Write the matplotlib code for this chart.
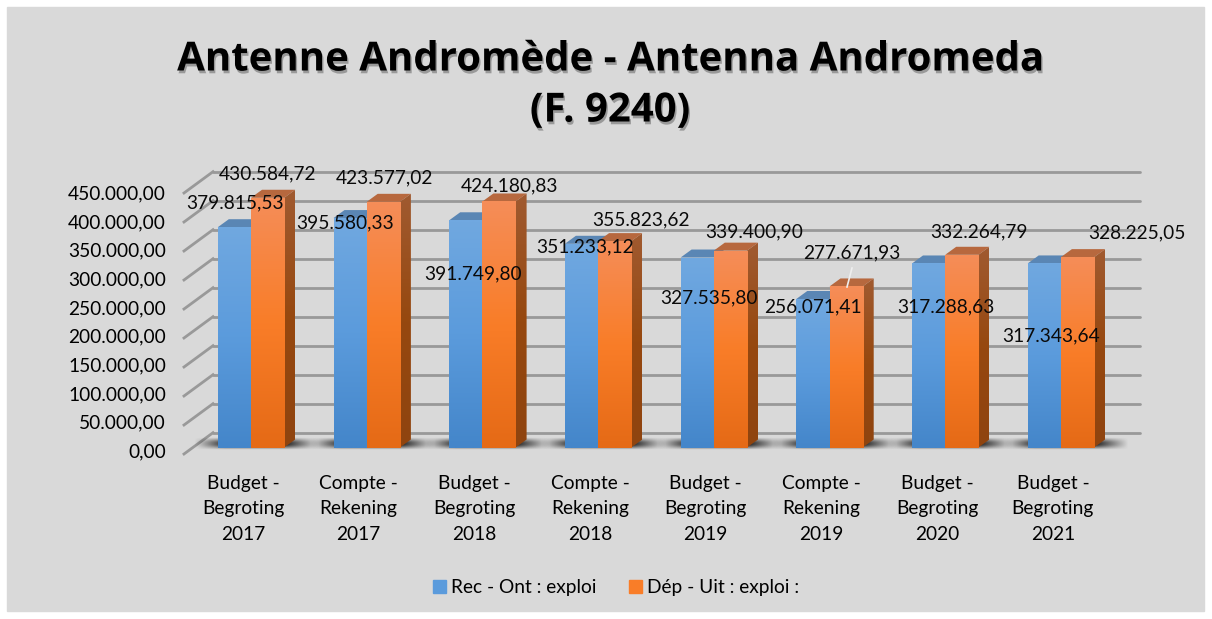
import numpy as np
import matplotlib
matplotlib.use('Agg')
import matplotlib.pyplot as plt
import matplotlib.patheffects as pe
from matplotlib.patches import Patch, Polygon, Rectangle
from matplotlib.transforms import ScaledTranslation

categories = ['Budget -\nBegroting\n2017', 'Compte -\nRekening\n2017',
              'Budget -\nBegroting\n2018', 'Compte -\nRekening\n2018',
              'Budget -\nBegroting\n2019', 'Compte -\nRekening\n2019',
              'Budget -\nBegroting\n2020', 'Budget -\nBegroting\n2021']
rec_values = [379815.53, 395580.33, 391749.80, 351233.12, 327535.80, 256071.41, 317288.63, 317343.64]
dep_values = [430584.72, 423577.02, 424180.83, 355823.62, 339400.90, 277671.93, 332264.79, 328225.05]
y_ticks = [0, 50000, 100000, 150000, 200000, 250000, 300000, 350000, 400000, 450000]

# where the data labels sit in the picture (pixels, centre of text)
rec_label_px = [(235, 203), (345, 223), (473, 274), (585, 247), (709, 298), (813, 307), (946, 307), (1051, 336)]
dep_label_px = [(268, 174), (384, 178), (510, 186), (641, 220), (754, 232), (852, 253), (979, 232), (1137, 233)]

W, H = 1212, 619
FONT = 'Lato'
FS = 13.8
plt.rcParams['font.family'] = [FONT, 'DejaVu Sans']


def money(v):
    return f'{v:,.2f}'.replace(',', ' ').replace('.', ',').replace(' ', '.')


def fx(px):
    return px / W


def fy(py):
    return 1 - py / H


def gradient(ax, x0, x1, y0, y1, stops, zorder, clip=None):
    # vertical gradient on a rectangle, stops go top to bottom
    t = np.linspace(0, 1, 64)
    pos = np.linspace(0, 1, len(stops))
    rgb = np.array([np.interp(t, pos, [matplotlib.colors.to_rgb(s)[k] for s in stops]) for k in range(3)]).T
    im = ax.imshow(rgb[:, None, :], extent=(x0, x1, y0, y1), aspect='auto', zorder=zorder, interpolation='bilinear')
    if clip is not None:
        p = Polygon(clip, transform=ax.transData, fc='none', ec='none')
        ax.add_patch(p)
        im.set_clip_path(p)
    return im


fig = plt.figure(figsize=(W / 100, H / 100), dpi=100, facecolor='white')
bg = Rectangle((7 / W, 1 - 611 / H), 1197 / W, 604 / H, transform=fig.transFigure, color='#d9d9d9', zorder=-10)
fig.patches.append(bg)

# axes: x from 184 to 1140 px, value 0 at y=447.5 and 450000 at y=186.5
left, right, base, top = 184, 1140, 447.5, 186.5
ax = fig.add_axes([fx(left), fy(base), (right - left) / W, (base - top) / H])
ax.patch.set_alpha(0)
step = 115.7
per_px = 450000 / (base - top)
for s in ax.spines.values():
    s.set_visible(False)

depth_x = 11 / step
depth_y = 8 * per_px
bar_w = 33.2 / step

# back wall grid and left wall
back_x0 = 213
for v in y_ticks:
    yb = v + 14.8 * per_px
    yf = v - 6.5 * per_px
    ax.plot([(back_x0 - 251) / step, (right - 251) / step], [yb, yb], color='#999999', lw=2, clip_on=False, zorder=1,
            solid_capstyle='round')
    ax.plot([(184 - 251) / step, (back_x0 - 251) / step], [yf, yb], color='#999999', lw=2, clip_on=False, zorder=1)

for i in range(len(categories)):
    # floor shadow
    xl = i - bar_w - 24 / step
    xr = i + bar_w + 34 / step
    nx, ny = 80, 16
    a = np.minimum(1, np.minimum(np.linspace(0, 1, nx), np.linspace(1, 0, nx)) * 4)
    b = np.sin(np.linspace(0, np.pi, ny)) ** 1.2
    img = np.zeros((ny, nx, 4))
    img[..., 3] = np.outer(b, a) * 0.8
    ax.imshow(img, extent=(xl, xr, -2 * per_px, 11 * per_px), aspect='auto', zorder=2, clip_on=False,
              interpolation='bilinear')

for i, (r, d) in enumerate(zip(rec_values, dep_values)):
    # blue bar
    ax.add_patch(Polygon([(i - bar_w, r), (i, r), (i + depth_x, r + depth_y), (i - bar_w + depth_x, r + depth_y)],
                         color='#5a86b4', zorder=3, lw=0))
    gradient(ax, i - bar_w, i, 0, r, ['#70a8e0', '#5b9bdc', '#4486ca'], 4)
    # orange bar, top, side then front
    ax.add_patch(Polygon([(i, d), (i + bar_w, d), (i + bar_w + depth_x, d + depth_y), (i + depth_x, d + depth_y)],
                         color='#b7683e', zorder=5, lw=0))
    side = [(i + bar_w, 0), (i + bar_w + depth_x, depth_y), (i + bar_w + depth_x, d + depth_y), (i + bar_w, d)]
    gradient(ax, i + bar_w, i + bar_w + depth_x, 0, d + depth_y, ['#a05a30', '#96480f', '#8f4410'], 5, clip=side)
    gradient(ax, i, i + bar_w, 0, d, ['#f58d58', '#f97d28', '#e56a16'], 6)

ax.set_xlim((left - 251) / step, (right - 251) / step)
ax.set_ylim(0, 450000)

# ticks
ax.set_yticks(y_ticks)
ax.set_yticklabels([money(v) for v in y_ticks])
ax.tick_params(axis='y', length=0, pad=13, labelsize=FS)
ax.set_xticks(range(len(categories)))
ax.set_xticklabels(categories, linespacing=1.62)
ax.tick_params(axis='x', length=0, pad=19.5, labelsize=FS)
for k, lab in enumerate(ax.get_yticklabels()):
    lab.set_transform(lab.get_transform() + ScaledTranslation(0, -(3 + k / 3) / 100, fig.dpi_scale_trans))
for lab in ax.get_xticklabels():
    lab.set_transform(lab.get_transform() + ScaledTranslation(-8 / 100, 0, fig.dpi_scale_trans))

# data labels
for v, p in zip(rec_values + dep_values, rec_label_px + dep_label_px):
    fig.text(fx(p[0]), fy(p[1]), money(v), ha='center', va='center', fontsize=FS, color='#0a0a0a', zorder=20)

# leader line of the 2019 account label
fig.add_artist(plt.Line2D([fx(852), fx(847)], [fy(268), fy(287)], color='#eeeeee', lw=1.2, zorder=19))

# title
shadow = [pe.withSimplePatchShadow(offset=(1, -2), shadow_rgbFace='#666666', alpha=0.55)]
title_kw = dict(ha='center', va='center', fontsize=28.9, fontweight='bold', color='black', path_effects=shadow,
                family=['Open Sans', 'DejaVu Sans'])
fig.text(fx(610), fy(60), 'Antenne Andromède - Antenna Andromeda', **title_kw)
fig.text(fx(610), fy(111), '(F. 9240)', **title_kw)

handles = [Patch(color='#5b9bdc', label='Rec - Ont : exploi'), Patch(color='#f97d28', label='Dép - Uit : exploi :')]
fig.legend(handles=handles, loc='center', bbox_to_anchor=(fx(616), fy(588)), ncol=2, frameon=False, fontsize=FS,
           handlelength=0.68, handleheight=0.68, handletextpad=0.3, columnspacing=1.65)

fig.savefig('out.png', dpi=100)
